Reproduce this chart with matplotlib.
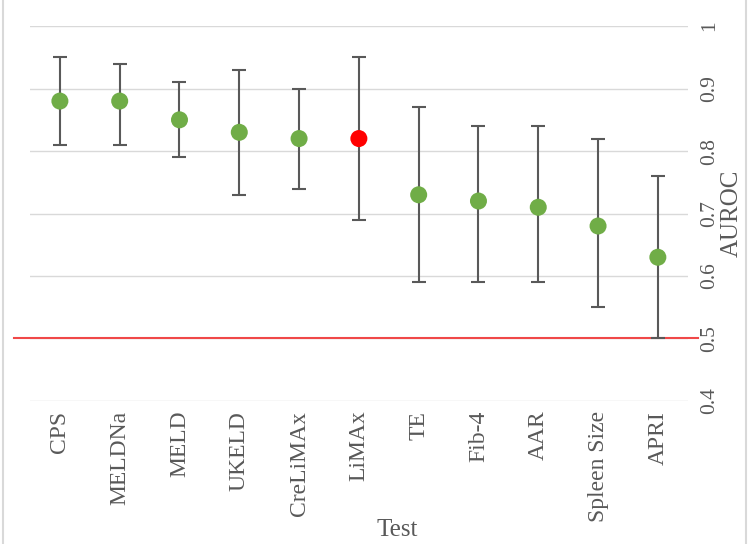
import matplotlib.pyplot as plt
from matplotlib.lines import Line2D

tests = ['CPS', 'MELDNa', 'MELD', 'UKELD', 'CreLiMAx', 'LiMAx', 'TE',
         'Fib-4', 'AAR', 'Spleen Size', 'APRI']
auroc = [0.88, 0.88, 0.85, 0.83, 0.82, 0.82, 0.73, 0.72, 0.71, 0.68, 0.63]
ci_low = [0.81, 0.81, 0.79, 0.73, 0.74, 0.69, 0.59, 0.59, 0.59, 0.55, 0.50]
ci_high = [0.95, 0.94, 0.91, 0.93, 0.90, 0.95, 0.87, 0.84, 0.84, 0.82, 0.76]
highlight = 'LiMAx'

plt.rcParams['font.family'] = ['Liberation Serif', 'DejaVu Serif']
txt = '#595959'

fig = plt.figure(figsize=(7.5, 5.44), dpi=100)
ax = fig.add_axes([0.04, 0.263, 0.877, 0.689])

x = list(range(len(tests)))
err = [[a - l for a, l in zip(auroc, ci_low)], [h - a for a, h in zip(auroc, ci_high)]]
ax.errorbar(x, auroc, yerr=err, fmt='none', ecolor='#595959', elinewidth=1.5,
            capsize=5, capthick=1.5, zorder=3)
cols = ['#FF0000' if t == highlight else '#70AD47' for t in tests]
ax.scatter(x, auroc, s=150, c=cols, zorder=4, linewidths=0)

# reference line at 0.5, runs past the plot area like the original
ax.plot([-0.025, 1.015], [0.5, 0.5], color='#F04848', lw=1.5,
        transform=ax.get_yaxis_transform(), clip_on=False, zorder=2)

ax.set_xlim(-0.5, len(tests) - 0.5)
ax.set_ylim(0.4, 1.0)
ax.set_yticks([0.4, 0.5, 0.6, 0.7, 0.8, 0.9, 1.0])
ax.set_yticklabels(['0.4', '0.5', '0.6', '0.7', '0.8', '0.9', '1'])
ax.set_xticks(x)
ax.set_xticklabels(tests, rotation=90)
ax.yaxis.tick_right()
ax.yaxis.set_label_position('right')
ax.tick_params(axis='y', length=0, pad=9, labelsize=15.5, labelcolor=txt,
               labelrotation=90)
ax.tick_params(axis='x', length=0, pad=7, labelsize=17, labelcolor=txt)
for lab in ax.get_yticklabels():
    lab.set_va('center')
ax.grid(axis='y', color='#D9D9D9', lw=1)
ax.set_axisbelow(True)
for s in ax.spines.values():
    s.set_visible(False)

ax.set_ylabel('AUROC', fontsize=18, color=txt, rotation=90, labelpad=1)
fig.text(397 / 750, 0.025, 'Test', fontsize=18, color=txt, ha='center', va='center')

# chart frame
fig.add_artist(Line2D([0.004, 0.004], [0, 1], color='#D9D9D9', lw=1.5))
fig.add_artist(Line2D([0.994, 0.994], [0, 1], color='#D9D9D9', lw=1.5))

fig.savefig('out.png', dpi=100)
